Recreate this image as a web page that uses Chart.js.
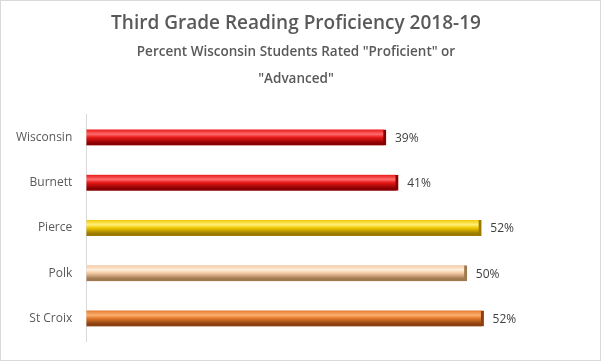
<!DOCTYPE html>
<html>
<head>
<meta charset="utf-8">
<script src="https://cdn.jsdelivr.net/npm/chart.js@4"></script>
<style>
  html, body { margin: 0; padding: 0; background: #fff; }
  #wrap { width: 599px; height: 359px; border: 1px solid #d9d9d9; position: relative; }
</style>
</head>
<body>
<div id="wrap"><canvas id="myChart" width="599" height="359"></canvas></div>
<script>
const titleText = "Third Grade Reading Proficiency 2018-19";
const subtitleLines = ['Percent Wisconsin Students Rated "Proficient" or', '"Advanced"'];
const places = ["Wisconsin", "Burnett", "Pierce", "Polk", "St Croix"];
const proficient = [0.393, 0.409, 0.518, 0.499, 0.521];
// light, mid, dark per bar
const barColors = [
  ["#ff6b6b", "#e81818", "#8a0000"],
  ["#ff6b6b", "#e81818", "#8a0000"],
  ["#fff07a", "#f0c800", "#9a7a00"],
  ["#fff0dc", "#f2c8a0", "#a07850"],
  ["#ffb070", "#e0782c", "#8a4010"],
];

const fontFam = "'Open Sans', 'Liberation Sans', sans-serif";

const bevelFill = (c) => {
  const chart = c.chart;
  const cols = barColors[c.dataIndex];
  const yScale = chart.scales.y;
  if (!yScale || !chart.chartArea) return cols[1];
  const cy = yScale.getPixelForValue(c.dataIndex);
  const h = 16;
  const g = chart.ctx.createLinearGradient(0, cy - h / 2, 0, cy + h / 2);
  g.addColorStop(0, cols[1]);
  g.addColorStop(0.3, cols[0]);
  g.addColorStop(0.5, cols[1]);
  g.addColorStop(0.85, cols[2]);
  g.addColorStop(1, cols[2]);
  return g;
};

const valueLabels = {
  id: "valueLabels",
  afterDatasetsDraw(chart) {
    const ctx = chart.ctx;
    const meta = chart.getDatasetMeta(0);
    ctx.save();
    ctx.font = "12px " + fontFam;
    ctx.fillStyle = "#404040";
    ctx.textAlign = "left";
    ctx.textBaseline = "middle";
    meta.data.forEach((bar, i) => {
      ctx.fillText(Math.round(proficient[i] * 100) + "%", bar.x + 9, bar.y + 1);
    });
    ctx.restore();
  },
};

new Chart(document.getElementById("myChart"), {
  type: "bar",
  data: {
    labels: places,
    datasets: [
      {
        data: proficient,
        backgroundColor: bevelFill,
        borderColor: (c) => barColors[c.dataIndex][2],
        borderWidth: { right: 3, top: 0, bottom: 0, left: 0 },
        borderSkipped: "left",
        barThickness: 16,
      },
    ],
  },
  options: {
    indexAxis: "y",
    responsive: false,
    animation: false,
    layout: { padding: { left: 9, right: 18, bottom: 19, top: 0 } },
    plugins: {
      legend: { display: false },
      tooltip: { enabled: false },
      title: {
        display: true,
        text: titleText,
        color: "#595959",
        font: { family: fontFam, size: 19, weight: "600" },
        padding: { top: 11, bottom: 4 },
      },
      subtitle: {
        display: true,
        text: subtitleLines,
        color: "#595959",
        font: { family: fontFam, size: 13.5, weight: "600", lineHeight: 2 },
        padding: { top: 0, bottom: 22 },
      },
    },
    scales: {
      x: {
        display: false,
        min: 0,
        max: 0.65,
      },
      y: {
        grid: { display: false },
        border: { color: "#d9d9d9" },
        ticks: {
          color: "#595959",
          font: { family: fontFam, size: 12 },
          padding: 6,
        },
      },
    },
  },
  plugins: [valueLabels],
});
</script>
</body>
</html>
